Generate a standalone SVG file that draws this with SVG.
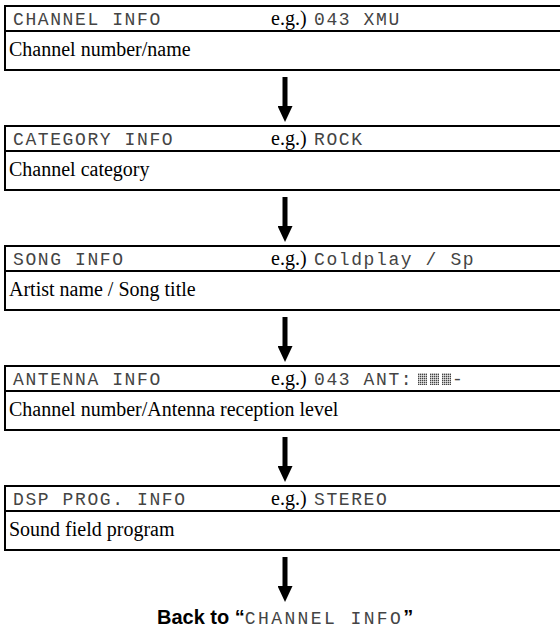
<svg xmlns="http://www.w3.org/2000/svg" width="560" height="631" viewBox="0 0 560 631">
<style>
.ln{stroke:#000;stroke-width:2;fill:none}
.lcd{font-family:"Liberation Mono","DejaVu Sans Mono",monospace;font-size:18px;fill:#444;letter-spacing:1.6px}
.ser{font-family:"Liberation Serif","Times New Roman",serif;font-size:20px;fill:#000}
.bk{font-family:"Liberation Sans",Arial,sans-serif;font-size:20px;font-weight:bold;fill:#000}
.ar{stroke:#000;stroke-width:5;marker-end:url(#ah)}
</style>
<defs>
<marker id="ah" viewBox="0 0 16 15" refX="1" refY="7.5" markerWidth="16" markerHeight="15" markerUnits="userSpaceOnUse" orient="auto">
<path d="M0,0 L16,7.5 L0,15 Z" fill="#000"/>
</marker>
<pattern id="dots" width="2" height="2" patternUnits="userSpaceOnUse"><rect width="1.4" height="1.4" fill="#444"/></pattern>
</defs>
<g id="node-channel">
<path class="ln" d="M560,6 H5 V70 H560 M5,31 H560"/>
<text class="lcd" x="13" y="25">CHANNEL INFO</text>
<text class="ser" x="271" y="25">e.g.)</text>
<text class="lcd" x="314" y="25">043 XMU</text>
<text class="ser" x="9" y="56">Channel number/name</text>
</g>
<g id="node-category">
<path class="ln" d="M560,126 H5 V190 H560 M5,151 H560"/>
<text class="lcd" x="13" y="145">CATEGORY INFO</text>
<text class="ser" x="271" y="145">e.g.)</text>
<text class="lcd" x="314" y="145">ROCK</text>
<text class="ser" x="9" y="176">Channel category</text>
</g>
<g id="node-song">
<path class="ln" d="M560,246 H5 V310 H560 M5,271 H560"/>
<text class="lcd" x="13" y="265">SONG INFO</text>
<text class="ser" x="271" y="265">e.g.)</text>
<text class="lcd" x="314" y="265">Coldplay / Sp</text>
<text class="ser" x="9" y="296">Artist name / Song title</text>
</g>
<g id="node-antenna">
<path class="ln" d="M560,366 H5 V430 H560 M5,391 H560"/>
<text class="lcd" x="13" y="385">ANTENNA INFO</text>
<text class="ser" x="271" y="385">e.g.)</text>
<text class="lcd" x="314" y="385">043 ANT:</text>
<rect x="418" y="373" width="9" height="12" fill="url(#dots)"/>
<rect x="430" y="373" width="9" height="12" fill="url(#dots)"/>
<rect x="442" y="373" width="9" height="12" fill="url(#dots)"/>
<text class="lcd" x="452" y="385">-</text>
<text class="ser" x="9" y="416">Channel number/Antenna reception level</text>
</g>
<g id="node-dsp">
<path class="ln" d="M560,486 H5 V550 H560 M5,511 H560"/>
<text class="lcd" x="13" y="505">DSP PROG. INFO</text>
<text class="ser" x="271" y="505">e.g.)</text>
<text class="lcd" x="314" y="505">STEREO</text>
<text class="ser" x="9" y="536">Sound field program</text>
</g>
<g id="node-back">
<text x="157" y="624"><tspan class="bk">Back to “</tspan><tspan class="lcd" style="letter-spacing:2.4px">CHANNEL INFO</tspan><tspan class="bk">”</tspan></text>
</g>
<g id="connectors">
<line class="ar" x1="285" y1="77" x2="285" y2="107"/>
<line class="ar" x1="285" y1="197" x2="285" y2="227"/>
<line class="ar" x1="285" y1="317" x2="285" y2="347"/>
<line class="ar" x1="285" y1="437" x2="285" y2="467"/>
<line class="ar" x1="285" y1="557" x2="285" y2="587"/>
</g>
</svg>
